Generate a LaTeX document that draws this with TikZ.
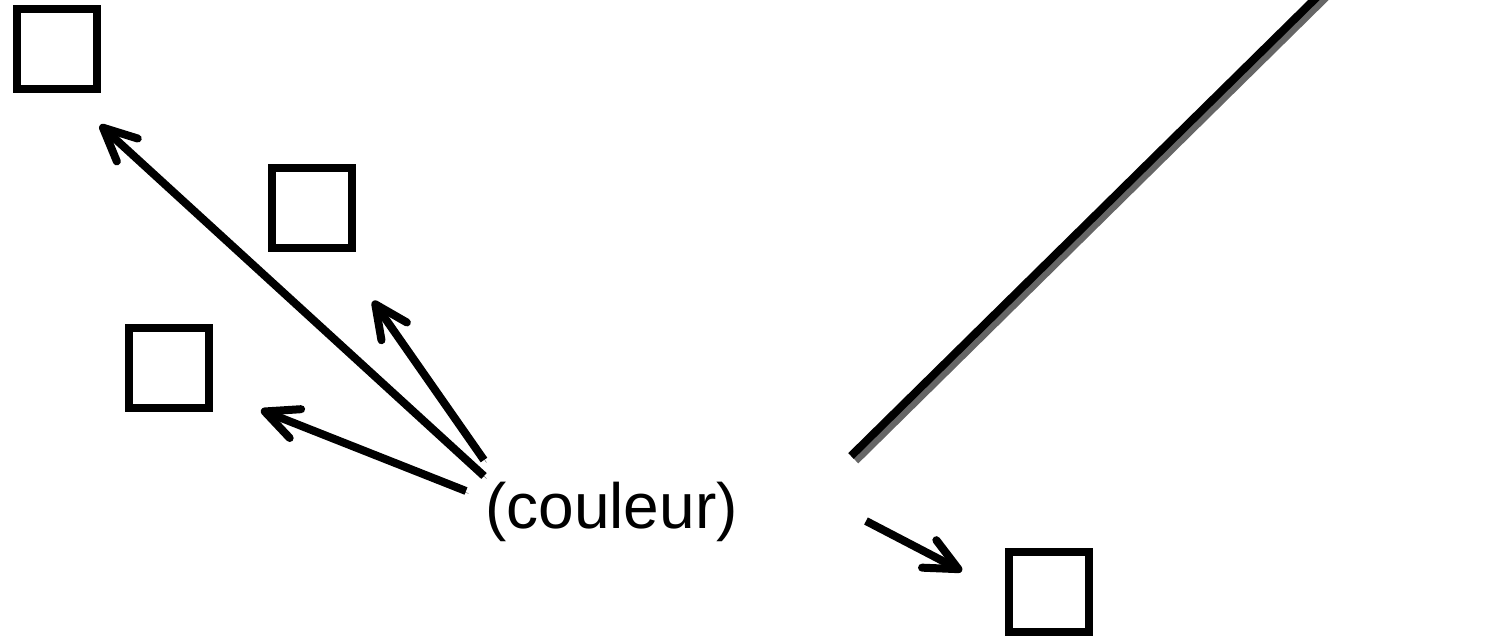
\documentclass[tikz,border=0pt]{standalone}
\usepackage{fontspec}
\setmainfont{Liberation Sans}
\usetikzlibrary{arrows.meta}
\begin{document}
\begin{tikzpicture}[x=1pt,y=-1pt,
  box/.style={draw, line width=8pt, minimum size=80pt, inner sep=0pt, outer sep=0pt},
  shadowed/.style={preaction={draw=black!65, transform canvas={shift={(2.5pt,-2.5pt)}}}},
  pointer/.style={line width=8pt, line cap=butt, line join=round,
    -{Straight Barb[length=33pt,width=31pt,line cap=round,line join=round]}, shadowed},
  stroke/.style={line width=8pt, line cap=butt, preaction={draw=black!60, line width=8pt,
    transform canvas={shift={(4.5pt,-4.5pt)}}}},
  word/.style={font=\fontsize{64}{64}\selectfont, inner sep=0pt, anchor=base}
]
\useasboundingbox (0,0) rectangle (1508,638);

% boxes
\node[box] (b1) at (57,49) {};
\node[box] (b2) at (312,208) {};
\node[box] (b3) at (168.5,368) {};
\node[box] (b4) at (1049,592) {};

% label
\node[word] (c) at (611.5,528.5) {(couleur)};

% arrow ends
\coordinate (s1) at (484,476);
\coordinate (e1) at (100,125);
\coordinate (s2) at (484,460);
\coordinate (e2) at (373,301);
\coordinate (s3) at (466,491);
\coordinate (e3) at (261,410);
\coordinate (s4) at (866,521);
\coordinate (e4) at (962,571);
\coordinate (l1) at (851,456);
\coordinate (l2) at (1322,-8);

\draw[pointer] (s1) -- (e1);
\draw[pointer] (s2) -- (e2);
\draw[pointer] (s3) -- (e3);
\draw[pointer] (s4) -- (e4);
\draw[stroke] (l1) -- (l2);
\end{tikzpicture}
\end{document}
